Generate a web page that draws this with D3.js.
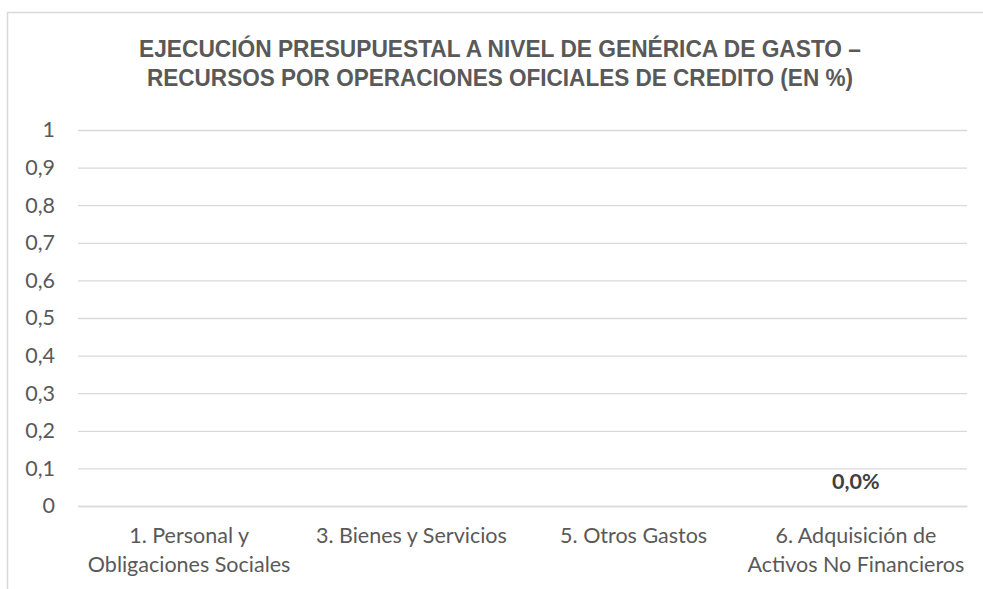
<!DOCTYPE html>
<html>
<head>
<meta charset="utf-8">
<script src="https://cdn.jsdelivr.net/npm/d3@7"></script>
<style>
  body { margin: 0; background: #fff; }
  svg { display: block; }
</style>
</head>
<body>
<div id="chart"></div>
<script>
// datos del grafico
var categories = [
  ["1. Personal y", "Obligaciones Sociales"],
  ["3. Bienes y Servicios"],
  ["5. Otros Gastos"],
  ["6. Adquisición de", "Activos No Financieros"]
];
var values = [null, null, null, 0];
var valueLabels = [null, null, null, "0,0%"];
var yTicks = [0, 0.1, 0.2, 0.3, 0.4, 0.5, 0.6, 0.7, 0.8, 0.9, 1];
var titleLines = [
  "EJECUCIÓN PRESUPUESTAL A NIVEL DE GENÉRICA DE GASTO –",
  "RECURSOS POR OPERACIONES OFICIALES DE CREDITO (EN %)"
];

var W = 983, H = 589;
var margin = {top: 130, right: 16, bottom: 83, left: 78};
var width = W - margin.left - margin.right,
    height = H - margin.top - margin.bottom;
var fontLabel = "Lato, 'Open Sans', sans-serif";

var svg = d3.select("#chart")
  .append("svg")
    .attr("width", W)
    .attr("height", H);

// marco del grafico (se sale por la derecha y abajo)
svg.append("rect")
  .attr("x", 7.5).attr("y", 12.5)
  .attr("width", W + 10).attr("height", H + 10)
  .attr("fill", "none")
  .attr("stroke", "#d9d9d9")
  .attr("stroke-width", 1.5);

// titulo
svg.append("g").selectAll("text")
  .data(titleLines)
  .enter()
  .append("text")
    .attr("x", 500)
    .attr("y", function(d, i) { return 57 + i * 29; })
    .attr("text-anchor", "middle")
    .attr("font-family", "'Liberation Sans Narrow', 'Liberation Sans', Arial, sans-serif")
    .attr("font-weight", "bold")
    .attr("font-size", 24)
    .attr("fill", "#595959")
    .attr("textLength", function(d, i) { return i == 0 ? 722 : 706; })
    .attr("lengthAdjust", "spacingAndGlyphs")
    .text(function(d) { return d; });

var g = svg.append("g")
  .attr("transform", "translate(" + margin.left + "," + margin.top + ")");

var x = d3.scaleBand()
  .domain(d3.range(categories.length))
  .range([0, width])
  .paddingInner(0.2)
  .paddingOuter(0.1);

var y = d3.scaleLinear()
  .domain([0, 1])
  .range([height, 0]);

var fmt = function(d) { return d3.format("~g")(d).replace(".", ","); };

// grilla y eje y
var yAxis = g.append("g")
  .call(d3.axisLeft(y).tickValues(yTicks).tickSize(-width).tickPadding(23).tickFormat(fmt));
yAxis.select(".domain").remove();
yAxis.selectAll("line").attr("stroke", "#d9d9d9").attr("stroke-width", 1.3);
yAxis.selectAll("text")
  .attr("font-family", fontLabel)
  .attr("font-size", 21.5)
  .attr("fill", "#595959");

// eje x
var xAxis = g.append("g")
  .attr("transform", "translate(0," + height + ")")
  .call(d3.axisBottom(x).tickSize(0).tickFormat(""));
xAxis.select(".domain").attr("stroke", "#d9d9d9").attr("stroke-width", 1.3);

xAxis.selectAll(".tick text").remove();
xAxis.selectAll(".tick").each(function(d) {
  var t = d3.select(this).append("text")
    .attr("fill", "#595959")
    .attr("font-family", fontLabel)
    .attr("font-size", 21.5)
    .attr("text-anchor", "middle");
  categories[d].forEach(function(line, i) {
    t.append("tspan")
      .attr("x", 0)
      .attr("y", 37 + i * 29)
      .text(line);
  });
});

// barras (valor cero)
var idx = d3.range(categories.length).filter(function(i) { return values[i] !== null; });
g.selectAll(".bar")
  .data(idx)
  .enter()
  .append("rect")
    .attr("class", "bar")
    .attr("x", function(i) { return x(i); })
    .attr("y", function(i) { return y(values[i]); })
    .attr("width", x.bandwidth())
    .attr("height", function(i) { return height - y(values[i]); })
    .attr("fill", "#4472c4");

// etiquetas de datos
g.selectAll(".lbl")
  .data(idx)
  .enter()
  .append("text")
    .attr("class", "lbl")
    .attr("x", function(i) { return x(i) + x.bandwidth() / 2; })
    .attr("y", function(i) { return y(values[i]) - 17; })
    .attr("text-anchor", "middle")
    .attr("font-family", fontLabel)
    .attr("font-weight", "bold")
    .attr("font-size", 21.5)
    .attr("fill", "#404040")
    .text(function(i) { return valueLabels[i]; });
</script>
</body>
</html>
